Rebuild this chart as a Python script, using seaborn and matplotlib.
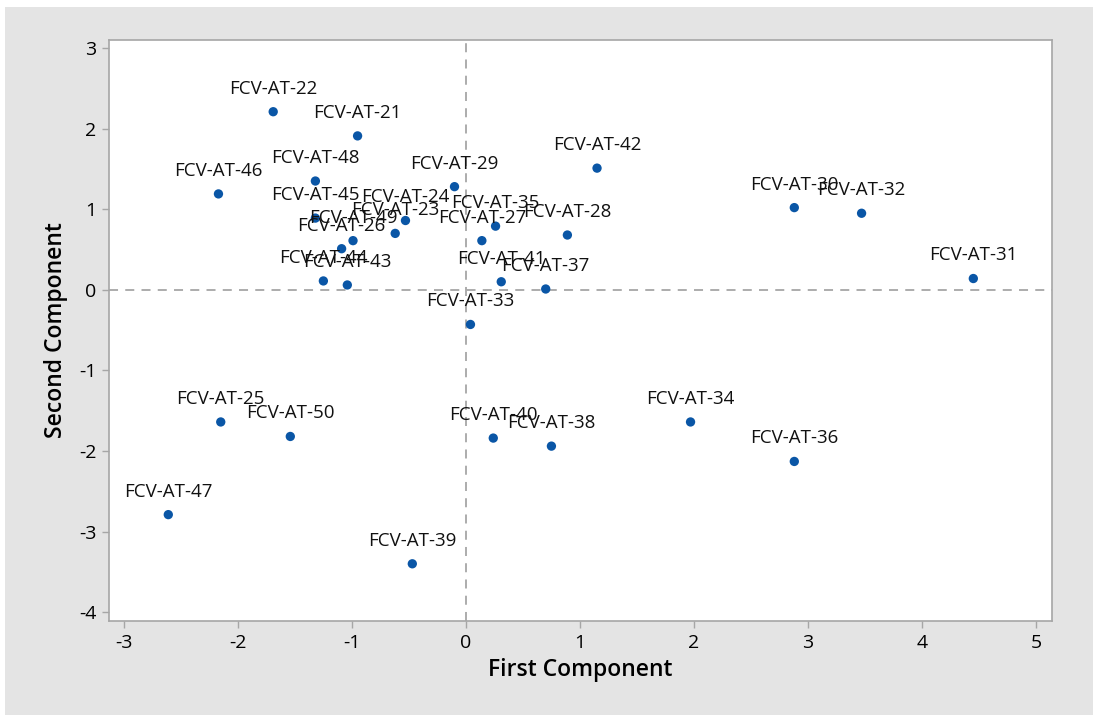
import matplotlib
matplotlib.use("Agg")
import matplotlib.pyplot as plt
from matplotlib.patches import Rectangle
import seaborn as sns
import pandas as pd

# Sample names with their scores on the first two principal components
samples = [
    "FCV-AT-21", "FCV-AT-22", "FCV-AT-23", "FCV-AT-24", "FCV-AT-25",
    "FCV-AT-26", "FCV-AT-27", "FCV-AT-28", "FCV-AT-29", "FCV-AT-30",
    "FCV-AT-31", "FCV-AT-32", "FCV-AT-33", "FCV-AT-34", "FCV-AT-35",
    "FCV-AT-36", "FCV-AT-37", "FCV-AT-38", "FCV-AT-39", "FCV-AT-40",
    "FCV-AT-41", "FCV-AT-42", "FCV-AT-43", "FCV-AT-44", "FCV-AT-45",
    "FCV-AT-46", "FCV-AT-47", "FCV-AT-48", "FCV-AT-49", "FCV-AT-50",
]
first_component = [
    -0.95, -1.69, -0.62, -0.53, -2.15,
    -1.09, 0.14, 0.89, -0.10, 2.88,
    4.45, 3.47, 0.04, 1.97, 0.26,
    2.88, 0.70, 0.75, -0.47, 0.24,
    0.31, 1.15, -1.04, -1.25, -1.32,
    -2.17, -2.61, -1.32, -0.99, -1.54,
]
second_component = [
    1.91, 2.21, 0.70, 0.86, -1.64,
    0.51, 0.61, 0.68, 1.28, 1.02,
    0.14, 0.95, -0.43, -1.64, 0.79,
    -2.13, 0.01, -1.94, -3.40, -1.84,
    0.10, 1.51, 0.06, 0.11, 0.89,
    1.19, -2.79, 1.35, 0.61, -1.82,
]

x_ticks = [-3, -2, -1, 0, 1, 2, 3, 4, 5]
y_ticks = [-4, -3, -2, -1, 0, 1, 2, 3]

df = pd.DataFrame({"First Component": first_component,
                   "Second Component": second_component,
                   "Sample": samples})

sns.set_theme(style="white")
plt.rcParams["font.family"] = ["Open Sans", "DejaVu Sans"]
plt.rcParams["text.color"] = "black"
plt.rcParams["axes.labelcolor"] = "black"

panel_grey = "#e4e4e4"
frame_grey = "#a6a6a6"
dot_blue = "#0a56a6"

fig = plt.figure(figsize=(10.93, 7.15), dpi=100, facecolor="white")
backdrop = Rectangle((5 / 1093, 0), 1 - 5 / 1093, 1 - 7 / 715,
                     transform=fig.transFigure, facecolor=panel_grey,
                     edgecolor="none", zorder=-5)
fig.add_artist(backdrop)

ax = fig.add_axes([109 / 1093, 1 - 621 / 715, (1052 - 109) / 1093, (621 - 40) / 715])
ax.set_zorder(2)
ax.set_facecolor("white")

ax.axvline(0, color=frame_grey, linestyle=(0, (5, 4)), linewidth=1.3, zorder=1)
ax.axhline(0, color=frame_grey, linestyle=(0, (5, 4)), linewidth=1.3, zorder=1)

sns.scatterplot(data=df, x="First Component", y="Second Component", ax=ax,
                color=dot_blue, s=45, edgecolor="none", linewidth=0, zorder=3)

for name, xv, yv in zip(samples, first_component, second_component):
    ax.annotate(name, (xv, yv), xytext=(0, 13), textcoords="offset points",
                ha="center", va="baseline", fontsize=13.5, color="#111111", zorder=4)

ax.set_xlim(-3.13, 5.14)
ax.set_ylim(-4.11, 3.1)
ax.set_xticks(x_ticks)
ax.set_yticks(y_ticks)
ax.set_xticklabels([str(t) for t in x_ticks])
ax.set_yticklabels([str(t) for t in y_ticks])

for side in ax.spines.values():
    side.set_color(frame_grey)
    side.set_linewidth(1.2)

ax.tick_params(axis="both", which="major", direction="out", length=5, width=1,
               color=frame_grey, labelsize=14, labelcolor="black", pad=4,
               bottom=True, left=True)

ax.set_xlabel("First Component", fontsize=16.5, fontweight="semibold", labelpad=5)
ax.set_ylabel("Second Component", fontsize=16.5, fontweight="semibold", labelpad=8)

fig.savefig("out.png", dpi=100, facecolor=fig.get_facecolor())
